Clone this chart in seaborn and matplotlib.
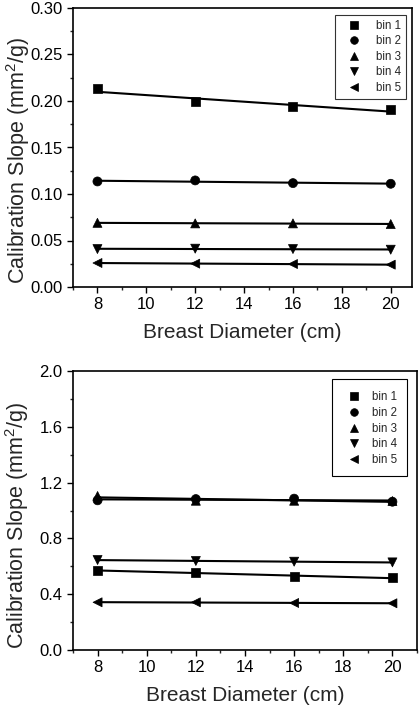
import pandas as pd
import matplotlib
matplotlib.use("Agg")
import matplotlib.pyplot as plt
import seaborn as sns
from matplotlib.ticker import MultipleLocator
from matplotlib.patches import Rectangle

diameter = [8, 12, 16, 20]
bins = ['bin 1', 'bin 2', 'bin 3', 'bin 4', 'bin 5']
markers = ['s', 'o', '^', 'v', '<']

# top panel values
top_vals = {
    'bin 1': [0.213, 0.199, 0.194, 0.191],
    'bin 2': [0.1135, 0.1146, 0.1117, 0.111],
    'bin 3': [0.069, 0.0684, 0.0684, 0.0677],
    'bin 4': [0.0408, 0.0412, 0.0408, 0.0401],
    'bin 5': [0.0258, 0.0251, 0.0247, 0.024],
}
# bottom panel values
bot_vals = {
    'bin 1': [0.571, 0.554, 0.526, 0.519],
    'bin 2': [1.073, 1.082, 1.085, 1.063],
    'bin 3': [1.104, 1.070, 1.070, 1.068],
    'bin 4': [0.645, 0.638, 0.633, 0.628],
    'bin 5': [0.342, 0.342, 0.337, 0.335],
}

sns.set_style("ticks")
plt.rcParams['font.family'] = ['Liberation Sans', 'DejaVu Sans']
plt.rcParams['mathtext.fontset'] = 'custom'
plt.rcParams['mathtext.rm'] = 'Liberation Sans'

fig = plt.figure(figsize=(4.2, 7.07), dpi=100)
W, H = 420, 707
ax1 = fig.add_axes([73 / W, 1 - 287 / H, (412 - 73) / W, (287 - 8) / H])
ax2 = fig.add_axes([73 / W, 1 - 650 / H, (417 - 73) / W, (650 - 371) / H])


def draw(ax, vals, ylim, ystep, xmax, ylab_y):
    rows = []
    for b in bins:
        for d, v in zip(diameter, vals[b]):
            rows.append({'diameter': d, 'slope': v, 'bin': b})
    df = pd.DataFrame(rows)
    for b in bins:
        sub = df[df['bin'] == b]
        sns.regplot(x='diameter', y='slope', data=sub, ax=ax, ci=None,
                    scatter=False, color='black', line_kws={'lw': 1.5})
    sns.scatterplot(x='diameter', y='slope', data=df, hue='bin', style='bin',
                    markers=dict(zip(bins, markers)),
                    palette=['black'] * 5, s=42, edgecolor='black',
                    linewidth=0.5, ax=ax, zorder=3)
    ax.set_xlim(7, xmax)
    ax.set_ylim(*ylim)
    ax.xaxis.set_major_locator(MultipleLocator(2))
    ax.xaxis.set_minor_locator(MultipleLocator(1))
    ax.yaxis.set_major_locator(MultipleLocator(ystep))
    ax.yaxis.set_minor_locator(MultipleLocator(ystep / 2))
    ax.tick_params(which='major', direction='out', length=4, width=1,
                   labelsize=12, colors='black')
    ax.tick_params(which='minor', direction='out', length=2.5, width=1)
    for sp in ax.spines.values():
        sp.set_visible(True)
        sp.set_linewidth(1.2)
        sp.set_color('black')
    ax.set_xlabel('Breast Diameter (cm)', fontsize=15)
    ax.set_ylabel('Calibration Slope (mm$^2$/g)', fontsize=15.5)
    ax.xaxis.set_label_coords(0.5, -0.129)
    ax.yaxis.set_label_coords(-0.122, ylab_y)


draw(ax1, top_vals, (0, 0.30), 0.05, 20.87, 0.455)
ax1.set_yticklabels([f'{t:.2f}' for t in ax1.get_yticks()])
leg1 = ax1.legend(loc='upper right', bbox_to_anchor=(0.999, 0.997),
                  fontsize=8.3, frameon=True, fancybox=False,
                  edgecolor='black', borderpad=0.45, labelspacing=0.3,
                  handlelength=2.4, handletextpad=0.7, markerscale=0.85)
leg1.get_frame().set_linewidth(0.8)

draw(ax2, bot_vals, (0, 2.0), 0.4, 21, 0.448)
ax2.set_yticklabels([f'{t:.1f}' for t in ax2.get_yticks()])
leg2 = ax2.legend(loc='upper right', bbox_to_anchor=(0.96, 0.948),
                  fontsize=8.3, frameon=False, borderpad=0,
                  labelspacing=0.32, handlelength=1.0, handletextpad=1.1,
                  markerscale=0.85)
ax2.add_patch(Rectangle((0.753, 0.624), 0.218, 0.347, transform=ax2.transAxes,
                        fill=False, edgecolor='black', lw=0.8, zorder=4))

fig.savefig('out.png', dpi=100)
